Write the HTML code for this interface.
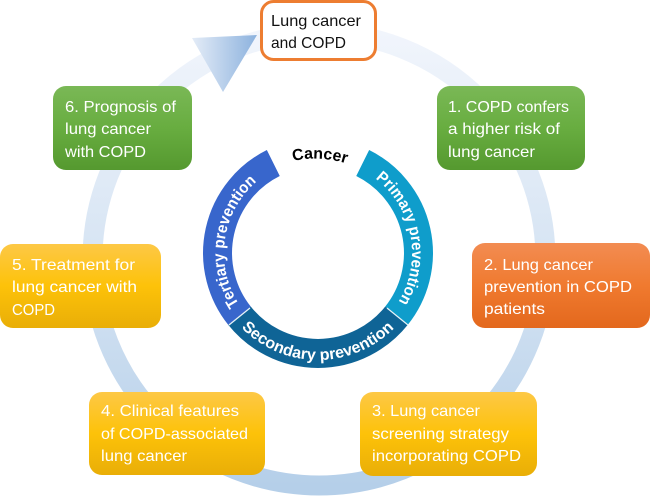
<!DOCTYPE html>
<html><head><meta charset="utf-8"><style>
html,body{margin:0;padding:0;background:#fff;width:650px;height:496px;overflow:hidden}
svg{display:block}
text{font-family:"Liberation Sans",sans-serif}
.w{fill:#fff;font-size:16px}
.k{fill:#111;font-size:16px}
.b{fill:#fff;font-size:16px;font-weight:bold}
</style></head><body>
<svg width="650" height="496" viewBox="0 0 650 496" xmlns="http://www.w3.org/2000/svg">
<defs>
<linearGradient id="ring" x1="0" y1="0" x2="0" y2="1"><stop offset="0" stop-color="#f1f5fc"/><stop offset=".5" stop-color="#d6e4f3"/><stop offset="1" stop-color="#b5cfe9"/></linearGradient>
<linearGradient id="tri" x1="0" y1="0" x2="1" y2="0"><stop offset="0" stop-color="#e4ecf7"/><stop offset="1" stop-color="#8cb2de"/></linearGradient>
<linearGradient id="g" x1="0" y1="0" x2="0" y2="1"><stop offset="0" stop-color="#7ab856"/><stop offset=".5" stop-color="#68ad40"/><stop offset="1" stop-color="#55992f"/></linearGradient>
<linearGradient id="o" x1="0" y1="0" x2="0" y2="1"><stop offset="0" stop-color="#f28c52"/><stop offset=".5" stop-color="#f07a2f"/><stop offset="1" stop-color="#e3681d"/></linearGradient>
<linearGradient id="y" x1="0" y1="0" x2="0" y2="1"><stop offset="0" stop-color="#fdc846"/><stop offset=".5" stop-color="#fdc209"/><stop offset="1" stop-color="#e9ae07"/></linearGradient>
<path id="pp" d="M375.4 178.5A94 94 0 0 1 398.6 301.4"/>
<path id="tp" d="M239.2 304.2A94 94 0 0 1 256.3 182"/>
<path id="sp" d="M241.4 327.7A107 107 0 0 0 394.6 327.7"/>
<path id="cp" d="M293 161Q320 155 348 164"/>
</defs>
<circle cx="319" cy="259" r="226.5" fill="none" stroke="url(#ring)" stroke-width="20"/>
<polygon points="192,38 257,35 223,92" fill="url(#tri)"/>

<path d="M362.7 163A100.5 100.5 0 0 1 396.5 315.7" fill="none" stroke="#0f9dcb" stroke-width="29"/>
<path d="M396.5 315.7A100.5 100.5 0 0 1 239.5 315.7" fill="none" stroke="#0f6496" stroke-width="29"/>
<path d="M239.5 315.7A100.5 100.5 0 0 1 273.3 163" fill="none" stroke="#3866cc" stroke-width="29"/>
<line x1="387" y1="308" x2="408" y2="325" stroke="#e8f3f8" stroke-width="1.2"/>
<line x1="250" y1="308" x2="229" y2="325" stroke="#e8f3f8" stroke-width="1.2"/>
<text class="b"><textPath href="#pp" textLength="137" lengthAdjust="spacingAndGlyphs">Primary prevention</textPath></text>
<text class="b"><textPath href="#tp" textLength="135" lengthAdjust="spacingAndGlyphs">Tertiary prevention</textPath></text>
<text class="b"><textPath href="#sp" textLength="170" lengthAdjust="spacingAndGlyphs">Secondary prevention</textPath></text>
<text style="font-size:16px;font-weight:bold;fill:#000"><textPath href="#cp" textLength="54" lengthAdjust="spacingAndGlyphs">Cancer</textPath></text>

<rect x="261.5" y="1.5" width="114" height="58" rx="12" fill="#fff" stroke="#ed7d31" stroke-width="3"/>
<text class="k" x="271" y="26" textLength="90" lengthAdjust="spacingAndGlyphs">Lung cancer</text>
<text class="k" x="271" y="48" textLength="75" lengthAdjust="spacingAndGlyphs">and COPD</text>

<rect x="437" y="86" width="148" height="84" rx="13" fill="url(#g)"/>
<text class="w" x="448" y="112" textLength="121" lengthAdjust="spacingAndGlyphs">1. COPD confers</text>
<text class="w" x="448" y="134" textLength="112" lengthAdjust="spacingAndGlyphs">a higher risk of</text>
<text class="w" x="448" y="157" textLength="87" lengthAdjust="spacingAndGlyphs">lung cancer</text>

<rect x="472" y="243" width="178" height="85" rx="13" fill="url(#o)"/>
<text class="w" x="484" y="270" textLength="109" lengthAdjust="spacingAndGlyphs">2. Lung cancer</text>
<text class="w" x="484" y="292" textLength="148" lengthAdjust="spacingAndGlyphs">prevention in COPD</text>
<text class="w" x="484" y="314" textLength="61" lengthAdjust="spacingAndGlyphs">patients</text>

<rect x="360" y="392" width="177" height="84" rx="13" fill="url(#y)"/>
<text class="w" x="372" y="416" textLength="108" lengthAdjust="spacingAndGlyphs">3. Lung cancer</text>
<text class="w" x="372" y="439" textLength="137" lengthAdjust="spacingAndGlyphs">screening strategy</text>
<text class="w" x="372" y="461" textLength="149" lengthAdjust="spacingAndGlyphs">incorporating COPD</text>

<rect x="89" y="392" width="176" height="83" rx="13" fill="url(#y)"/>
<text class="w" x="101" y="416" textLength="138" lengthAdjust="spacingAndGlyphs">4. Clinical features</text>
<text class="w" x="101" y="439" textLength="147" lengthAdjust="spacingAndGlyphs">of COPD-associated</text>
<text class="w" x="101" y="461" textLength="86" lengthAdjust="spacingAndGlyphs">lung cancer</text>

<rect x="0" y="244" width="161" height="84" rx="13" fill="url(#y)"/>
<text class="w" x="12" y="270" textLength="123" lengthAdjust="spacingAndGlyphs">5. Treatment for</text>
<text class="w" x="12" y="292" textLength="125" lengthAdjust="spacingAndGlyphs">lung cancer with</text>
<text class="w" x="12" y="315" textLength="43" lengthAdjust="spacingAndGlyphs">COPD</text>

<rect x="53" y="86" width="139" height="84" rx="13" fill="url(#g)"/>
<text class="w" x="65" y="112" textLength="111" lengthAdjust="spacingAndGlyphs">6. Prognosis of</text>
<text class="w" x="65" y="134" textLength="86" lengthAdjust="spacingAndGlyphs">lung cancer</text>
<text class="w" x="65" y="157" textLength="81" lengthAdjust="spacingAndGlyphs">with COPD</text>
</svg>
</body></html>
